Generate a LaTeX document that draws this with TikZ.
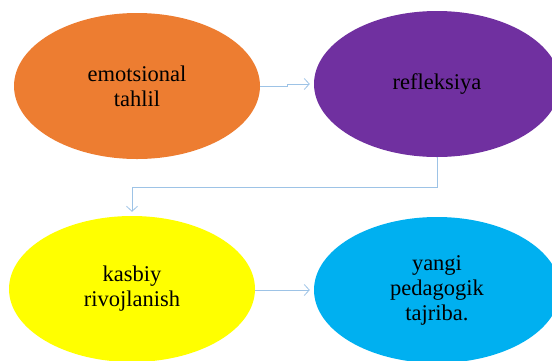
\documentclass[tikz,border=0pt]{standalone}
\usepackage{fontspec}
\setmainfont{Liberation Serif}
\usetikzlibrary{shapes.geometric,arrows.meta}
\definecolor{eorange}{HTML}{ED7D31}
\definecolor{epurple}{HTML}{7030A0}
\definecolor{eyellow}{HTML}{FFFF00}
\definecolor{eblue}{HTML}{00B0F0}
\definecolor{conn}{HTML}{9DC3E6}
\tikzset{
  oval/.style={ellipse, inner sep=0pt, minimum width=246pt, minimum height=146pt,
    align=center, font=\fontsize{22.5}{25}\selectfont, text=black},
  link/.style={draw=conn, line width=0.8pt, -{Straight Barb[length=5pt,width=11pt]}, shorten >=4pt}
}
\begin{document}
\begin{tikzpicture}[x=1pt,y=-1pt]
\useasboundingbox (0,0) rectangle (552,360);
\clip (0,0) rectangle (552,360);
\node[oval, fill=eorange] (e1) at (137,86) {emotsional\\tahlil};
\node[oval, fill=epurple] (e2) at (437,84) {refleksiya};
\node[oval, fill=eyellow] (e3) at (132,289) {kasbiy\\rivojlanish};
\node[oval, fill=eblue] (e4) at (437,290) {yangi\\pedagogik\\tajriba.};
\coordinate (j1) at (287,86);
\coordinate (j2) at (287,84);
\coordinate (b1) at (437,187);
\coordinate (b2) at (132,187);
\draw[link] (e1.east) -- (j1) -- (j2) -- (e2.west);
\draw[link] (e2.south) -- (b1) -- (b2) -- (e3.north);
\draw[link] (e3.east |- e4.west) -- (e4.west);
\end{tikzpicture}
\end{document}
